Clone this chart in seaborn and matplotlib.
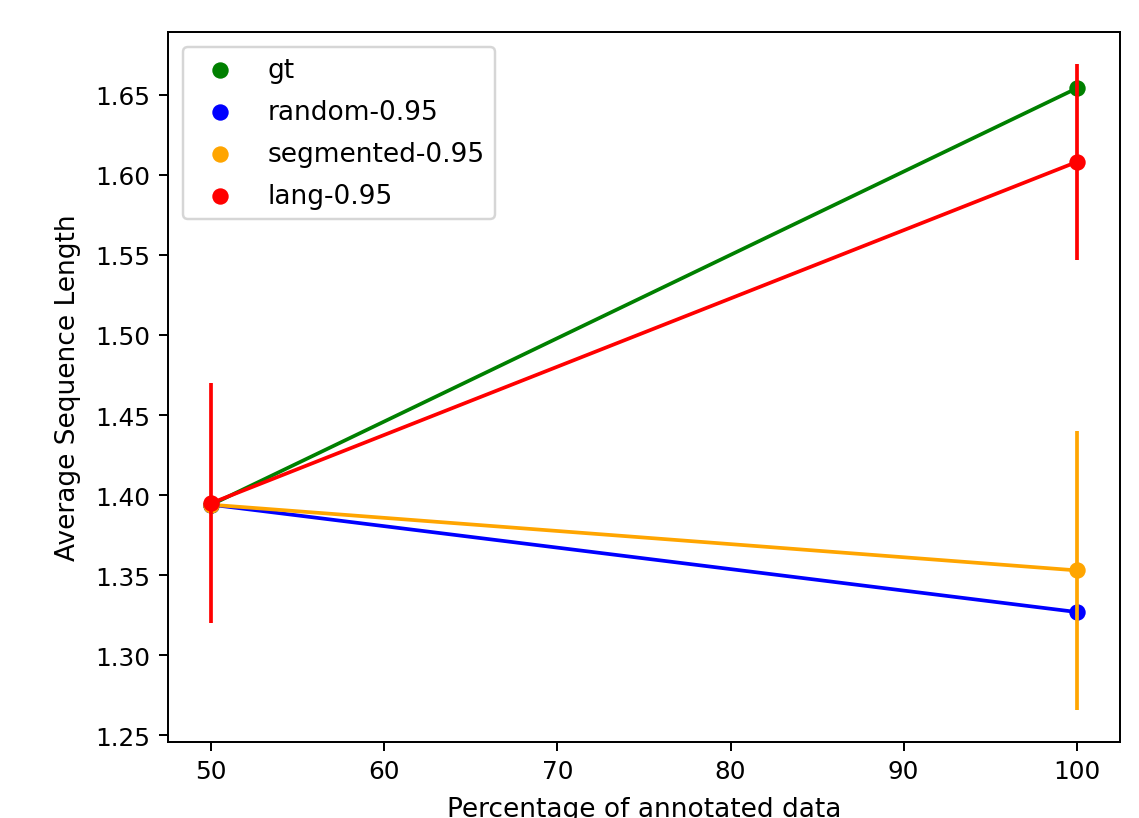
import matplotlib
matplotlib.use("Agg")
import matplotlib.pyplot as plt
import seaborn as sns
import numpy as np

# Data
pct = [50, 100]
series_names = ["gt", "random-0.95", "segmented-0.95", "lang-0.95"]
colors = ["green", "blue", "orange", "red"]
gt_vals = [1.394, 1.654]
random_vals = [1.394, 1.327]
segmented_vals = [1.394, 1.353]
lang_vals = [1.395, 1.608]
gt_err = [0.0, 0.0]
random_err = [0.0, 0.0]
segmented_err = [0.0, 0.087]
lang_err = [0.075, 0.061]

values = [gt_vals, random_vals, segmented_vals, lang_vals]
errors = [gt_err, random_err, segmented_err, lang_err]

DPI = 178
fig, ax = plt.subplots(figsize=(1139 / DPI, 819 / DPI), dpi=DPI)
fig.subplots_adjust(left=168 / 1139, right=1120 / 1139, top=1 - 33 / 819, bottom=1 - 743 / 819)

for name, c, vals, err in zip(series_names, colors, values, errors):
    sns.scatterplot(x=pct, y=vals, color=c, s=44, linewidth=0, label=name, ax=ax, zorder=3)
    sns.lineplot(x=pct, y=vals, color=c, legend=False, ax=ax, zorder=2)
    if any(e > 0 for e in err):
        ax.errorbar(pct, vals, yerr=err, fmt="none", ecolor=c, elinewidth=1.5, zorder=4)

ax.set_xlabel("Percentage of annotated data", fontsize=10.7, labelpad=5)
ax.set_ylabel("Average Sequence Length", fontsize=10.7, labelpad=6)
ax.legend(loc="upper left", fontsize=10.7, borderaxespad=0.55, labelspacing=0.6)

fig.savefig("out.png", dpi=DPI)
